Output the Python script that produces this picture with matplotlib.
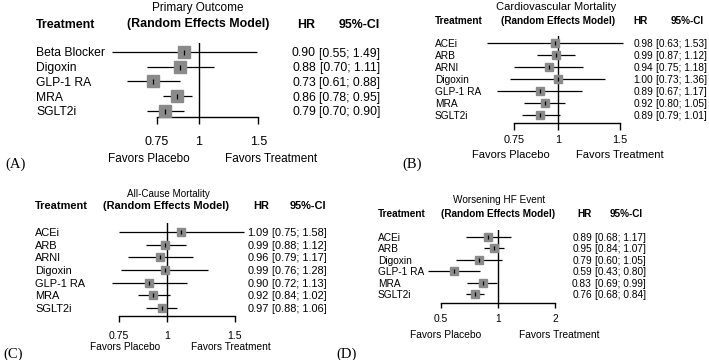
import numpy as np
import matplotlib
matplotlib.use("Agg")
import matplotlib.pyplot as plt
from matplotlib import transforms

plt.rcParams['font.family'] = ['Liberation Sans', 'DejaVu Sans']

# ---------------- data ----------------
a_title = "Primary Outcome"
a_treat = ["Beta Blocker", "Digoxin", "GLP-1 RA", "MRA", "SGLT2i"]
a_hr = [0.90, 0.88, 0.73, 0.86, 0.79]
a_lo = [0.55, 0.70, 0.61, 0.78, 0.70]
a_hi = [1.49, 1.11, 0.88, 0.95, 0.90]
a_ticks = [0.75, 1, 1.5]
a_ticklabels = ["0.75", "1", "1.5"]

b_title = "Cardiovascular Mortality"
b_treat = ["ACEi", "ARB", "ARNI", "Digoxin", "GLP-1 RA", "MRA", "SGLT2i"]
b_hr = [0.98, 0.99, 0.94, 1.00, 0.89, 0.92, 0.89]
b_lo = [0.63, 0.87, 0.75, 0.73, 0.67, 0.80, 0.79]
b_hi = [1.53, 1.12, 1.18, 1.36, 1.17, 1.05, 1.01]
b_ticks = [0.75, 1, 1.5]
b_ticklabels = ["0.75", "1", "1.5"]

c_title = "All-Cause Mortality"
c_treat = ["ACEi", "ARB", "ARNI", "Digoxin", "GLP-1 RA", "MRA", "SGLT2i"]
c_hr = [1.09, 0.99, 0.96, 0.99, 0.90, 0.92, 0.97]
c_lo = [0.75, 0.88, 0.79, 0.76, 0.72, 0.84, 0.88]
c_hi = [1.58, 1.12, 1.17, 1.28, 1.13, 1.02, 1.06]
c_ticks = [0.75, 1, 1.5]
c_ticklabels = ["0.75", "1", "1.5"]

d_title = "Worsening HF Event"
d_treat = ["ACEi", "ARB", "Digoxin", "GLP-1 RA", "MRA", "SGLT2i"]
d_hr = [0.89, 0.95, 0.79, 0.59, 0.83, 0.76]
d_lo = [0.68, 0.84, 0.60, 0.43, 0.69, 0.68]
d_hi = [1.17, 1.07, 1.05, 0.80, 0.99, 0.84]
d_ticks = [0.5, 1, 2]
d_ticklabels = ["0.5", "1", "2"]

panel_tags = ["(A)", "(B)", "(C)", "(D)"]
header_treat = "Treatment"
header_model = "(Random Effects Model)"
header_hr = "HR"
header_ci = "95%-CI"
lab_left = "Favors Placebo"
lab_right = "Favors Treatment"

# ---------------- layout (pixels) ----------------
W, H = 709, 360
fig = plt.figure(figsize=(W / 100, H / 100), dpi=100)

layouts = [
    dict(x1=199, ppl=146, L=100, R=275, row0=52, sp=14.75, axis_y=117, top=43,
         fs=8.7, title_fs=8.5, head_fs=8.9, tick_fs=9.0, fav_fs=8.5, ticklen=7, tick_y=141,
         label_x=36, hr_right=316, hr_head=306, ci_right=380, ci_head=380,
         title_x=198, title_y=7, head_y=23, rem_x=198.5,
         fav_l=149, fav_r=271, fav_y=157, tag_x=5, tag_y=163, ms=8.0),
    dict(x1=558, ppl=153, L=480, R=630, row0=43, sp=12.0, axis_y=123, top=36,
         fs=7.3, title_fs=8.0, head_fs=7.2, tick_fs=7.8, fav_fs=8.0, ticklen=7, tick_y=139,
         label_x=435, hr_right=653, hr_head=641, ci_right=707, ci_head=704,
         title_x=556, title_y=6, head_y=20, rem_x=558.5,
         fav_l=511, fav_r=620, fav_y=154, tag_x=402, tag_y=163, ms=6.0),
    dict(x1=167, ppl=167.5, L=110, R=255, row0=232, sp=12.67, axis_y=316, top=223,
         fs=7.9, title_fs=7.1, head_fs=7.9, tick_fs=7.6, fav_fs=7.3, ticklen=6, tick_y=335,
         label_x=35, hr_right=269, hr_head=261, ci_right=327, ci_head=326,
         title_x=168, title_y=193, head_y=205, rem_x=166,
         fav_l=125, fav_r=231, fav_y=346, tag_x=3, tag_y=353, ms=6.0),
    dict(x1=498, ppl=82.5, L=420, R=570, row0=237, sp=11.4, axis_y=303, top=230,
         fs=7.3, title_fs=7.2, head_fs=7.2, tick_fs=7.4, fav_fs=7.4, ticklen=5, tick_y=318,
         label_x=378, hr_right=592, hr_head=585, ci_right=646, ci_head=643,
         title_x=499, title_y=199, head_y=213, rem_x=498,
         fav_l=446, fav_r=559, fav_y=334, tag_x=336, tag_y=353, ms=6.0),
]

panels = [
    (a_title, a_treat, a_hr, a_lo, a_hi, a_ticks, a_ticklabels),
    (b_title, b_treat, b_hr, b_lo, b_hi, b_ticks, b_ticklabels),
    (c_title, c_treat, c_hr, c_lo, c_hi, c_ticks, c_ticklabels),
    (d_title, d_treat, d_hr, d_lo, d_hi, d_ticks, d_ticklabels),
]

SQ = "#8a8a8a"


def fx(x):
    return x / W


def fy(y):
    return 1 - y / H


for (title, treat, hr, lo, hi, ticks, tlabels), lay, tag in zip(panels, layouts, panel_tags):
    L, R = lay["L"], lay["R"]
    ax = fig.add_axes([fx(L), fy(lay["axis_y"]), (R - L) / W, (lay["axis_y"] - lay["top"]) / H])
    ax.set_xscale("log")
    ax.set_xlim(np.exp((L - lay["x1"]) / lay["ppl"]), np.exp((R - lay["x1"]) / lay["ppl"]))
    ax.set_ylim((lay["axis_y"] - lay["row0"]) / lay["sp"], (lay["top"] - lay["row0"]) / lay["sp"])
    ax.patch.set_visible(False)
    for s in ["top", "right", "left"]:
        ax.spines[s].set_visible(False)
    ax.spines["bottom"].set_bounds(ticks[0], ticks[-1])
    ax.spines["bottom"].set_linewidth(1.0)
    ax.set_yticks([])
    ax.set_xticks(ticks)
    ax.set_xticklabels(tlabels)
    ax.xaxis.set_minor_locator(matplotlib.ticker.NullLocator())
    cap = lay["tick_fs"] / 0.72
    pad_px = lay["tick_y"] - lay["axis_y"] - lay["ticklen"] - 0.36 * cap
    ax.tick_params(axis="x", direction="out", length=lay["ticklen"] * 0.72, width=1.0,
                   pad=pad_px * 0.72, labelsize=lay["tick_fs"])
    ax.axvline(1, color="black", lw=1.0, zorder=1)

    ys = np.arange(len(treat))
    ax.hlines(ys, lo, hi, color="black", lw=0.9, zorder=2)
    ax.plot(hr, ys, ls="none", marker="s", ms=lay["ms"], color=SQ, mec=SQ, zorder=3)
    ax.plot(hr, ys, ls="none", marker="|", ms=lay["ms"] * 0.45, mew=0.9, color="black", zorder=4)

    tr = transforms.blended_transform_factory(fig.transFigure, ax.transData)
    for i, (name, h, l, u) in enumerate(zip(treat, hr, lo, hi)):
        ax.text(fx(lay["label_x"]), i, name, transform=tr, ha="left", va="center_baseline",
                fontsize=lay["fs"])
        ax.text(fx(lay["hr_right"]), i, f"{h:.2f}", transform=tr, ha="right",
                va="center_baseline", fontsize=lay["fs"])
        ax.text(fx(lay["ci_right"]), i, f"[{l:.2f}; {u:.2f}]", transform=tr, ha="right",
                va="center_baseline", fontsize=lay["fs"])

    fig.text(fx(lay["title_x"]), fy(lay["title_y"]), title, ha="center", va="center_baseline",
             fontsize=lay["title_fs"])
    fig.text(fx(lay["label_x"]), fy(lay["head_y"]), header_treat, ha="left", va="center_baseline",
             fontsize=lay["head_fs"], fontweight="bold")
    fig.text(fx(lay["rem_x"]), fy(lay["head_y"]), header_model, ha="center", va="center_baseline",
             fontsize=lay["head_fs"], fontweight="bold")
    fig.text(fx(lay["hr_head"]), fy(lay["head_y"]), header_hr, ha="center", va="center_baseline",
             fontsize=lay["head_fs"], fontweight="bold")
    fig.text(fx(lay["ci_head"]), fy(lay["head_y"]), header_ci, ha="right", va="center_baseline",
             fontsize=lay["head_fs"], fontweight="bold")
    fig.text(fx(lay["fav_l"]), fy(lay["fav_y"]), lab_left, ha="center", va="center_baseline",
             fontsize=lay["fav_fs"])
    fig.text(fx(lay["fav_r"]), fy(lay["fav_y"]), lab_right, ha="center", va="center_baseline",
             fontsize=lay["fav_fs"])
    fig.text(fx(lay["tag_x"]), fy(lay["tag_y"]), tag, ha="left", va="center_baseline",
             fontsize=10.5, family=["Liberation Serif", "DejaVu Serif"])

fig.savefig("out.png", dpi=100, facecolor="white")
